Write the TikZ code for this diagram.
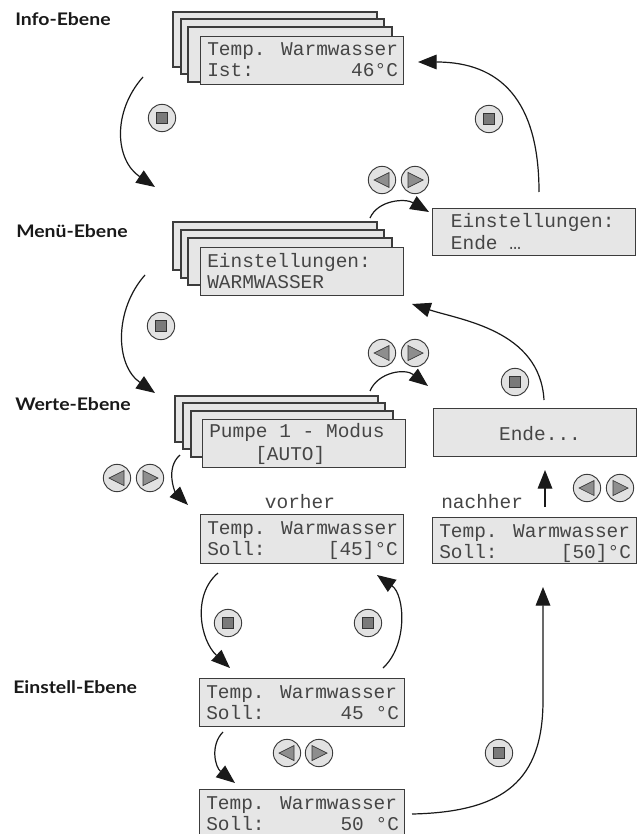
\documentclass[tikz,border=0pt]{standalone}
\usepackage{fontspec}
\usetikzlibrary{arrows.meta}
\newfontfamily\monof{Liberation Mono}
\newfontfamily\lblf{Lato}
\definecolor{boxfill}{HTML}{E6E6E6}
\definecolor{boxline}{HTML}{3C3C3C}
\definecolor{txt}{HTML}{454545}
\definecolor{btnfill}{HTML}{E2E2E2}
\definecolor{btnin}{HTML}{7A7A7A}
\newcommand\dispbox[8]{% name, x, y, w(pt), h(pt), line1, line2 left, line2 right
  \node[disp, minimum width=#4, minimum height=#5] (#1) at (#2,#3) {};
  \node[mono, anchor=base west] (#1-a) at ([shift={(7,20)}]#1.north west) {#6};
  \node[mono, anchor=base west] (#1-b) at ([shift={(7,41)}]#1.north west) {#7};
  \node[mono, anchor=base east] (#1-c) at ([shift={(-6,41)}]#1.north east) {#8};}
\begin{document}
\begin{tikzpicture}[x=0.75pt,y=-0.75pt,
  card/.style={draw=boxline, fill=boxfill, line width=0.9pt},
  disp/.style={card, rectangle, inner sep=0pt, anchor=north west},
  mono/.style={font=\monof\fontsize{14.6}{17}\selectfont, text=txt, inner sep=0pt},
  lvl/.style={font=\lblf\bfseries\fontsize{13}{15}\selectfont, text=black!90, inner sep=0pt, anchor=base west},
  conn/.style={line width=0.9pt, black!90, -{Triangle[length=14pt,width=11pt]}},
  btn/.style={circle, draw=boxline, fill=btnfill, line width=0.7pt, minimum size=20.5pt, inner sep=0pt},
  sqbtn/.style={btn, path picture={\filldraw[fill=btnin, draw=black!80, line width=0.5pt]
      ([shift={(-5.5,-5.5)}]path picture bounding box.center) rectangle
      ([shift={(5.5,5.5)}]path picture bounding box.center);}},
  lbtn/.style={btn, path picture={\filldraw[fill=btnin!85, draw=black!80, line width=0.5pt]
      ([shift={(-8,0)}]path picture bounding box.center) --
      ([shift={(7,-7.5)}]path picture bounding box.center) --
      ([shift={(7,7.5)}]path picture bounding box.center) -- cycle;}},
  rbtn/.style={btn, path picture={\filldraw[fill=btnin!85, draw=black!80, line width=0.5pt]
      ([shift={(8,0)}]path picture bounding box.center) --
      ([shift={(-7,-7.5)}]path picture bounding box.center) --
      ([shift={(-7,7.5)}]path picture bounding box.center) -- cycle;}}
]
\useasboundingbox (0,0) rectangle (639,834);
\clip (0,0) rectangle (639,834);

% level labels
\node[lvl] (l1) at (15,26) {\scalebox{1.12}[1]{Info-Ebene}};
\node[lvl] (l2) at (16,238) {\scalebox{1.12}[1]{Menü-Ebene}};
\node[lvl] (l3) at (15,410) {\scalebox{1.12}[1]{Werte-Ebene}};
\node[lvl] (l4) at (13,693) {\scalebox{1.12}[1]{Einstell-Ebene}};

% Info stack
\draw[card] (173,12) rectangle (377,67);
\draw[card] (181,19) rectangle (384,74);
\draw[card] (188,27) rectangle (392,82);
\dispbox{info}{200}{36}{152.25pt}{36pt}{Temp. Warmwasser}{Ist:}{46°C}

% Menu stack
\draw[card] (173,222) rectangle (377,270);
\draw[card] (181,230) rectangle (384,278);
\draw[card] (188,238) rectangle (392,285);
\dispbox{menu}{200}{247}{152.25pt}{36pt}{Einstellungen:}{WARMWASSER}{}

% Werte stack
\draw[card] (175,396) rectangle (378,442);
\draw[card] (183,403) rectangle (385,449);
\draw[card] (191,411) rectangle (393,457);
\node[disp, minimum width=152.25pt, minimum height=36pt] (werte) at (202,419) {};
\node[mono, anchor=base west] (werte-a) at (209,437) {Pumpe 1 - Modus};
\node[mono, anchor=base west] (werte-b) at (255,460) {[AUTO]};

% right column
\dispbox{eende}{432}{208}{152.25pt}{35.25pt}{\ Einstellungen:}{\ Ende …}{}
\node[disp, minimum width=152.25pt, minimum height=36pt] (ende) at (433,408) {};
\node[mono, anchor=base] (ende-a) at (540,440) {Ende...};
\dispbox{nach}{432}{517}{153pt}{34.5pt}{Temp. Warmwasser}{Soll:}{[50]°C}
\node[mono, anchor=base west] (nachlbl) at (441,508) {nachher};

% value screens
\node[mono, anchor=base] (vorlbl) at (300,508) {vorher};
\dispbox{vor}{200}{514}{152.25pt}{36.75pt}{Temp. Warmwasser}{Soll:}{[45]°C}
\dispbox{einst}{199}{678}{153.75pt}{36pt}{Temp. Warmwasser}{Soll:}{45 °C}
\dispbox{last}{199}{789}{153.75pt}{37.5pt}{Temp. Warmwasser}{Soll:}{50 °C}

% buttons
\node[sqbtn] (s1) at (162,118) {};
\node[sqbtn] (s2) at (489,119) {};
\node[sqbtn] (s3) at (161,326) {};
\node[sqbtn] (s4) at (515,382) {};
\node[sqbtn] (s5) at (228,623) {};
\node[sqbtn] (s6) at (368,623) {};
\node[sqbtn] (s7) at (499,753) {};
\node[lbtn] (p1l) at (382,180) {}; \node[rbtn] (p1r) at (415,180) {};
\node[lbtn] (p2l) at (382,353) {}; \node[rbtn] (p2r) at (415,353) {};
\node[lbtn] (p3l) at (117,478) {}; \node[rbtn] (p3r) at (150,478) {};
\node[lbtn] (p4l) at (587,488) {}; \node[rbtn] (p4r) at (620,488) {};
\node[lbtn] (p5l) at (287,753) {}; \node[rbtn] (p5r) at (319,753) {};

% connector end points
\coordinate (c1a) at (143,77);  \coordinate (c1b) at (155,187);
\coordinate (c2a) at (145,275); \coordinate (c2b) at (155,393);
\coordinate (c3a) at (180,455); \coordinate (c3b) at (188,505);
\coordinate (c4a) at (539,192); \coordinate (c4b) at (418,62);
\coordinate (c5a) at (370,218); \coordinate (c5b) at (429,212);
\coordinate (c6a) at (544,400); \coordinate (c6b) at (412,304);
\coordinate (c7a) at (370,391); \coordinate (c7b) at (428,386);
\coordinate (c8a) at (218,573); \coordinate (c8b) at (230,668);
\coordinate (c9a) at (383,668); \coordinate (c9b) at (377,575);
\coordinate (c10a) at (223,732); \coordinate (c10b) at (235,783);
\coordinate (c11a) at (412,814); \coordinate (c11m) at (543,700); \coordinate (c11b) at (543,587);
\coordinate (c12a) at (545,507); \coordinate (c12b) at (545,470);

\draw[conn] (c1a) .. controls (112,112) and (115,160) .. (c1b);
\draw[conn] (c2a) .. controls (114,310) and (115,365) .. (c2b);
\draw[conn] (c3a) .. controls (165,468) and (175,492) .. (c3b);
\draw[conn] (c4a) .. controls (539,100) and (500,62) .. (c4b);
\draw[conn] (c5a) .. controls (378,200) and (405,198) .. (c5b);
\draw[conn] (c6a) .. controls (540,330) and (460,320) .. (c6b);
\draw[conn] (c7a) .. controls (378,372) and (405,368) .. (c7b);
\draw[conn] (c8a) .. controls (192,595) and (200,640) .. (c8b);
\draw[conn] (c9a) .. controls (408,645) and (405,595) .. (c9b);
\draw[conn] (c10a) .. controls (210,745) and (215,767) .. (c10b);
\draw[conn] (c11a) .. controls (505,812) and (543,780) .. (c11m) -- (c11b);
\draw[conn] (c12a) -- (c12b);
\end{tikzpicture}
\end{document}
